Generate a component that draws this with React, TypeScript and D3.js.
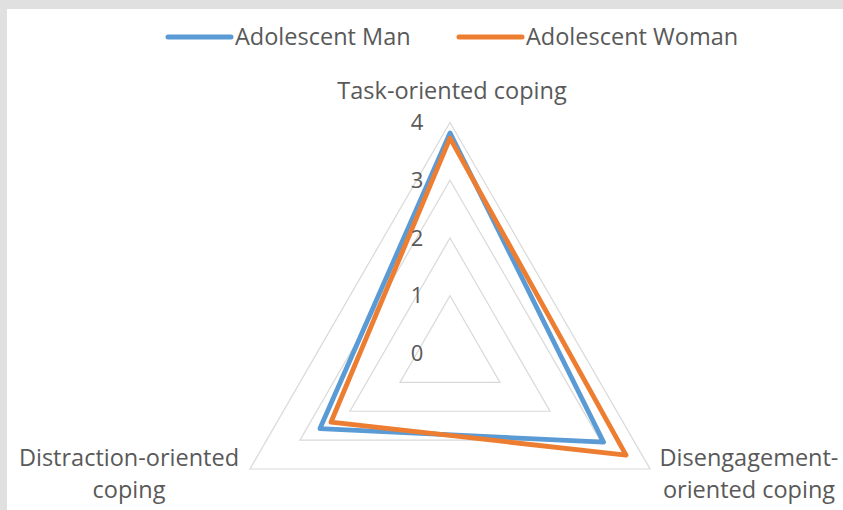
import React, { useRef, useEffect } from "react";
import { select, scaleLinear, lineRadial, curveLinearClosed, range } from "d3";

const axes = ["Task-oriented coping", "Disengagement-oriented coping", "Distraction-oriented coping"];
const axisLabelLines = [["Task-oriented coping"], ["Disengagement-", "oriented coping"], ["Distraction-oriented", "coping"]];
const seriesNames = ["Adolescent Man", "Adolescent Woman"];
const manValues = [3.82, 3.07, 2.6];
const womanValues = [3.73, 3.52, 2.38];
const tickValues = [0, 1, 2, 3, 4];
const colors = ["#5b9bd5", "#ed7d31"];

const App: React.FC = () => {
  const svgRef = useRef(null);
  const width = 843;
  const height = 510;
  const cx = 450;
  const cy = 353.5;
  const font = "'Open Sans', Lato, sans-serif";
  const fontSize = 23.5;

  useEffect(() => {
    const svg = select(svgRef.current);
    svg.selectAll("*").remove();

    svg.append("rect").attr("width", width).attr("height", height).attr("fill", "#fff");
    svg.append("rect").attr("width", width).attr("height", 9).attr("fill", "#e0e0e0");
    svg.append("rect").attr("width", 7).attr("height", height).attr("fill", "#e0e0e0");

    const r = scaleLinear().domain([0, 4]).range([0, 231]);
    const angle = (i: number) => (i * 2 * Math.PI) / axes.length;

    const g = svg.append("g").attr("transform", `translate(${cx},${cy})`);

    // grid triangles
    const gridLine = lineRadial<number>()
      .angle((_, i) => angle(i))
      .curve(curveLinearClosed);
    tickValues.slice(1).forEach((t) => {
      g.append("path")
        .attr("d", gridLine.radius(() => r(t))(range(axes.length)))
        .attr("fill", "none")
        .attr("stroke", "#d9d9d9")
        .attr("stroke-width", 1.2);
    });

    // series
    const seriesLine = lineRadial<number>()
      .angle((_, i) => angle(i))
      .radius((d) => r(d))
      .curve(curveLinearClosed);
    [manValues, womanValues].forEach((vals, k) => {
      g.append("path")
        .attr("d", seriesLine(vals))
        .attr("fill", "none")
        .attr("stroke", colors[k])
        .attr("stroke-width", 4.8)
        .attr("stroke-linejoin", "round");
    });

    // tick labels
    g.selectAll("text.tick")
      .data(tickValues)
      .join("text")
      .attr("class", "tick")
      .attr("x", -33)
      .attr("y", (d) => -r(d))
      .attr("dy", "0.35em")
      .attr("text-anchor", "middle")
      .attr("font-family", font)
      .attr("font-size", 22)
      .attr("fill", "#595959")
      .text((d) => String(d));

    // axis labels
    const labelPos = [
      { x: 452, y: 99 },
      { x: 749, y: 466 },
      { x: 129, y: 466 },
    ];
    axisLabelLines.forEach((lines, i) => {
      const t = svg
        .append("text")
        .attr("text-anchor", "middle")
        .attr("font-family", font)
        .attr("font-size", fontSize)
        .attr("fill", "#595959");
      lines.forEach((ln, j) => {
        t.append("tspan")
          .attr("x", labelPos[i].x)
          .attr("y", labelPos[i].y + j * 32)
          .text(ln);
      });
    });

    // legend
    const legendX = [168, 459];
    seriesNames.forEach((name, k) => {
      svg.append("line")
        .attr("x1", legendX[k])
        .attr("x2", legendX[k] + 63)
        .attr("y1", 37)
        .attr("y2", 37)
        .attr("stroke", colors[k])
        .attr("stroke-width", 5)
        .attr("stroke-linecap", "round");
      svg.append("text")
        .attr("x", legendX[k] + 67)
        .attr("y", 37)
        .attr("dy", "0.35em")
        .attr("font-family", font)
        .attr("font-size", fontSize)
        .attr("fill", "#595959")
        .text(name);
    });
  }, []);

  return (
    <div style={{ position: "absolute", left: 0, top: 0 }}>
      <svg ref={svgRef} width={width} height={height} style={{ display: "block" }}></svg>
    </div>
  );
};

export default App;
